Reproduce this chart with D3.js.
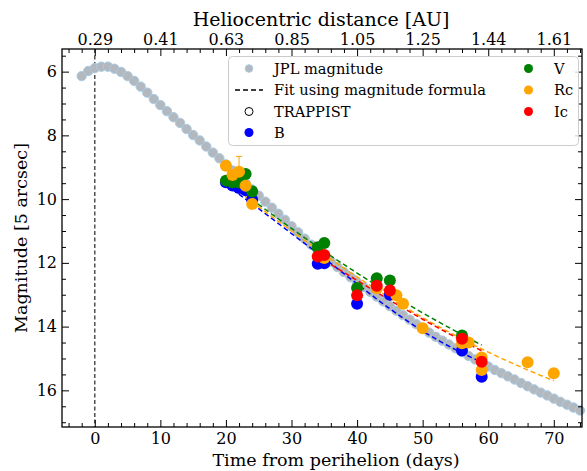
<!DOCTYPE html>
<html>
<head>
<meta charset="utf-8">
<script src="https://cdn.jsdelivr.net/npm/d3@7"></script>
<style>
    body { margin: 0; background: #fff; }
    text { font-family: "DejaVu Serif", serif; fill: #000; }
</style>
</head>
<body>
<svg id="chart" width="587" height="471"></svg>
<script>
// JPL predicted magnitude, one point per day
const jplDays = [-2, -1, 0, 1, 2, 3, 4, 5, 6, 7, 8, 9, 10, 11, 12, 13, 14, 15, 16, 17, 18, 19,
    20, 21, 22, 23, 24, 25, 26, 27, 28, 29, 30, 31, 32, 33, 34, 35, 36, 37, 38, 39,
    40, 41, 42, 43, 44, 45, 46, 47, 48, 49, 50, 51, 52, 53, 54, 55, 56, 57, 58, 59,
    60, 61, 62, 63, 64, 65, 66, 67, 68, 69, 70, 71, 72, 73, 74];
const jplMag = [6.14, 5.98, 5.89, 5.845, 5.845, 5.91, 6.01, 6.14, 6.29, 6.47, 6.66, 6.86, 7.05, 7.24,
    7.43, 7.61, 7.80, 7.99, 8.16, 8.35, 8.54, 8.72,
    8.91, 9.10, 9.30, 9.50, 9.70, 9.89, 10.08, 10.27, 10.46, 10.65, 10.85, 11.04, 11.24, 11.43,
    11.61, 11.79, 11.96, 12.13, 12.29, 12.45,
    12.61, 12.76, 12.91, 13.06, 13.21, 13.36, 13.50, 13.64, 13.78, 13.92, 14.06, 14.19, 14.32,
    14.44, 14.56, 14.68, 14.80, 14.92, 15.03, 15.14,
    15.25, 15.36, 15.46, 15.56, 15.66, 15.77, 15.87, 15.97, 16.07, 16.16, 16.26, 16.36, 16.45,
    16.54, 16.63];

// TRAPPIST photometry
const bDays = [20, 21, 22, 23, 24, 34, 35, 40, 45, 56, 59];
const bMag = [9.47, 9.57, 9.65, 9.72, 10.02, 12.03, 12.01, 13.28, 13.0, 14.75, 15.57];
const vDays = [20, 21, 22, 23, 24, 34, 35, 40, 43, 45, 56];
const vMag = [9.42, 9.47, 9.48, 9.21, 9.76, 11.51, 11.38, 12.79, 12.48, 12.55, 14.28];
const rcDays = [20, 21, 22, 23, 24, 35, 43, 46, 47, 50, 56, 57, 59, 59, 66, 70];
const rcMag = [8.95, 9.24, 9.14, 9.58, 10.15, 11.85, 12.8, 13.02, 13.28, 14.05, 14.52, 14.5, 14.97, 15.36, 15.12, 15.46];
const rcErr = [0, 0, 0.48, 0, 0, 0, 0, 0, 0, 0, 0, 0, 0, 0, 0, 0];
const icDays = [34, 35, 40, 43, 45, 56, 59];
const icMag = [11.8, 11.75, 13.02, 12.72, 12.87, 14.38, 15.1];

// fitted curves
const fitBDays = [20, 25, 30, 35, 40, 45, 50, 55, 59];
const fitBMag = [9.55, 10.3, 11.08, 11.86, 12.66, 13.44, 14.14, 14.72, 15.12];
const fitVDays = [20, 25, 30, 35, 40, 45, 50, 55, 59];
const fitVMag = [9.4, 10.17, 10.92, 11.64, 12.32, 12.96, 13.57, 14.14, 14.58];
const fitRcDays = [20, 25, 30, 35, 40, 45, 50, 55, 60, 65, 70];
const fitRcMag = [9.45, 10.24, 11.0, 11.74, 12.44, 13.1, 13.72, 14.28, 14.8, 15.27, 15.7];
const fitIcDays = [34, 40, 45, 50, 55, 59];
const fitIcMag = [11.8, 12.55, 13.17, 13.77, 14.33, 14.76];

// top axis: heliocentric distance at the major day ticks
const topTickDays = [0, 10, 20, 30, 40, 50, 60, 70];
const topTickLabels = ["0.29", "0.41", "0.63", "0.85", "1.05", "1.25", "1.44", "1.61"];

const colors = { B: "blue", V: "green", Rc: "orange", Ic: "red" };

function zip(xs, ys) {
    return xs.map((x, i) => ({ x: x, y: ys[i] }));
}

function draw() {
    const svg = d3.select("#chart");
    const left = 62, right = 582, top = 49, bottom = 427;

    const x = d3.scaleLinear().domain([-5, 74.3]).range([left, right]);
    const y = d3.scaleLinear().domain([5.29, 17.15]).range([top, bottom]);

    const majorX = d3.range(0, 71, 10);
    const minorX = d3.range(-4, 75, 2).filter(d => d % 10 !== 0);
    const majorY = d3.range(6, 17, 2);
    const minorY = d3.range(5.5, 17.1, 0.5).filter(d => d % 2 !== 0);

    const plot = svg.append("g");

    // perihelion marker
    plot.append("line")
        .attr("x1", x(0)).attr("x2", x(0))
        .attr("y1", top).attr("y2", bottom)
        .attr("stroke", "#444")
        .attr("stroke-width", 1.4)
        .attr("stroke-dasharray", "4,2.5");

    plot.selectAll(".jpl")
        .data(zip(jplDays, jplMag))
        .enter()
        .append("circle")
        .attr("cx", d => x(d.x))
        .attr("cy", d => y(d.y))
        .attr("r", 4.7)
        .attr("fill", "#b3b8be")
        .attr("stroke", "#a9cbe3")
        .attr("stroke-width", 1);

    const line = d3.line().x(d => x(d.x)).y(d => y(d.y)).curve(d3.curveMonotoneX);
    const fits = [
        [fitBDays, fitBMag, colors.B],
        [fitVDays, fitVMag, colors.V],
        [fitRcDays, fitRcMag, colors.Rc],
        [fitIcDays, fitIcMag, colors.Ic]
    ];
    fits.forEach(f => {
        plot.append("path")
            .attr("d", line(zip(f[0], f[1])))
            .attr("fill", "none")
            .attr("stroke", f[2])
            .attr("stroke-width", 1.5)
            .attr("stroke-dasharray", "5,3");
    });

    // error bars on Rc
    const rcData = rcDays.map((d, i) => ({ x: d, y: rcMag[i], e: rcErr[i] })).filter(d => d.e > 0);
    rcData.forEach(d => {
        plot.append("line")
            .attr("x1", x(d.x)).attr("x2", x(d.x))
            .attr("y1", y(d.y - d.e)).attr("y2", y(d.y + d.e))
            .attr("stroke", colors.Rc).attr("stroke-width", 1);
        [d.y - d.e, d.y + d.e].forEach(v => {
            plot.append("line")
                .attr("x1", x(d.x) - 3).attr("x2", x(d.x) + 3)
                .attr("y1", y(v)).attr("y2", y(v))
                .attr("stroke", colors.Rc).attr("stroke-width", 1);
        });
    });

    const obs = [
        [bDays, bMag, colors.B],
        [vDays, vMag, colors.V],
        [rcDays, rcMag, colors.Rc],
        [icDays, icMag, colors.Ic]
    ];
    obs.forEach(o => {
        plot.append("g")
            .selectAll("circle")
            .data(zip(o[0], o[1]))
            .enter()
            .append("circle")
            .attr("cx", d => x(d.x))
            .attr("cy", d => y(d.y))
            .attr("r", 6)
            .attr("fill", o[2]);
    });

    // axes, ticks pointing inwards
    const axes = svg.append("g").attr("class", "axes");
    const addAxis = (axis, tr) => {
        const g = axes.append("g").attr("transform", tr).call(axis);
        g.select(".domain").remove();
        g.selectAll("line").attr("stroke", "#000").attr("stroke-width", 1);
        g.selectAll("text").attr("font-size", "16px").attr("font-family", "DejaVu Serif");
        return g;
    };

    addAxis(d3.axisBottom(x).tickValues(majorX).tickSize(-7).tickPadding(6).tickFormat(d3.format("d")), `translate(0,${bottom})`);
    addAxis(d3.axisBottom(x).tickValues(minorX).tickSize(-4).tickFormat(""), `translate(0,${bottom})`);
    addAxis(d3.axisTop(x).tickValues(topTickDays).tickSize(-7).tickPadding(4)
        .tickFormat((d, i) => topTickLabels[i]), `translate(0,${top})`);
    addAxis(d3.axisTop(x).tickValues(minorX).tickSize(-4).tickFormat(""), `translate(0,${top})`);
    addAxis(d3.axisLeft(y).tickValues(majorY).tickSize(-7).tickPadding(5).tickFormat(d3.format("d")), `translate(${left},0)`);
    addAxis(d3.axisLeft(y).tickValues(minorY).tickSize(-4).tickFormat(""), `translate(${left},0)`);
    addAxis(d3.axisRight(y).tickValues(majorY).tickSize(-7).tickFormat(""), `translate(${right},0)`);
    addAxis(d3.axisRight(y).tickValues(minorY).tickSize(-4).tickFormat(""), `translate(${right},0)`);

    svg.append("rect")
        .attr("x", left).attr("y", top)
        .attr("width", right - left).attr("height", bottom - top)
        .attr("fill", "none").attr("stroke", "#000").attr("stroke-width", 1.3);

    // axis titles
    svg.append("text")
        .attr("x", 336).attr("y", 466)
        .attr("text-anchor", "middle").attr("font-size", "17.5px")
        .text("Time from perihelion (days)");
    svg.append("text")
        .attr("x", 321).attr("y", 26)
        .attr("text-anchor", "middle").attr("font-size", "19px")
        .text("Heliocentric distance [AU]");
    svg.append("text")
        .attr("transform", `translate(27,${(top + bottom) / 2}) rotate(-90)`)
        .attr("text-anchor", "middle").attr("font-size", "17.5px")
        .text("Magnitude [5 arcsec]");

    // legend
    const lg = svg.append("g");
    lg.append("rect")
        .attr("x", 228.5).attr("y", 56.5).attr("width", 350).attr("height", 89)
        .attr("rx", 4).attr("fill", "#fff").attr("fill-opacity", 0.8)
        .attr("stroke", "#ccc").attr("stroke-width", 1);
    const rows = [68.5, 90, 111.5, 132.5];
    const leftItems = [
        { label: "JPL magnitude", type: "jpl" },
        { label: "Fit using magnitude formula", type: "dash" },
        { label: "TRAPPIST", type: "open" },
        { label: "B", type: "dot", color: colors.B }
    ];
    const rightItems = [
        { label: "V", type: "dot", color: colors.V },
        { label: "Rc", type: "dot", color: colors.Rc },
        { label: "Ic", type: "dot", color: colors.Ic }
    ];
    const drawItem = (item, mx, tx, ry) => {
        if (item.type === "jpl") {
            lg.append("circle").attr("cx", mx).attr("cy", ry).attr("r", 3.8)
                .attr("fill", "#b3b8be").attr("stroke", "#a9cbe3").attr("stroke-width", 1);
        } else if (item.type === "dash") {
            lg.append("line").attr("x1", mx - 14).attr("x2", mx + 14).attr("y1", ry).attr("y2", ry)
                .attr("stroke", "#000").attr("stroke-width", 1.5).attr("stroke-dasharray", "5,3");
        } else if (item.type === "open") {
            lg.append("circle").attr("cx", mx).attr("cy", ry).attr("r", 4)
                .attr("fill", "none").attr("stroke", "#000").attr("stroke-width", 1);
        } else {
            lg.append("circle").attr("cx", mx).attr("cy", ry).attr("r", 4.5).attr("fill", item.color);
        }
        lg.append("text").attr("x", tx).attr("y", ry).attr("dy", "0.35em")
            .attr("font-size", "14.6px").text(item.label);
    };
    leftItems.forEach((it, i) => drawItem(it, 249, 274, rows[i]));
    rightItems.forEach((it, i) => drawItem(it, 528.5, 554, rows[i]));
}

draw();
</script>
</body>
</html>
